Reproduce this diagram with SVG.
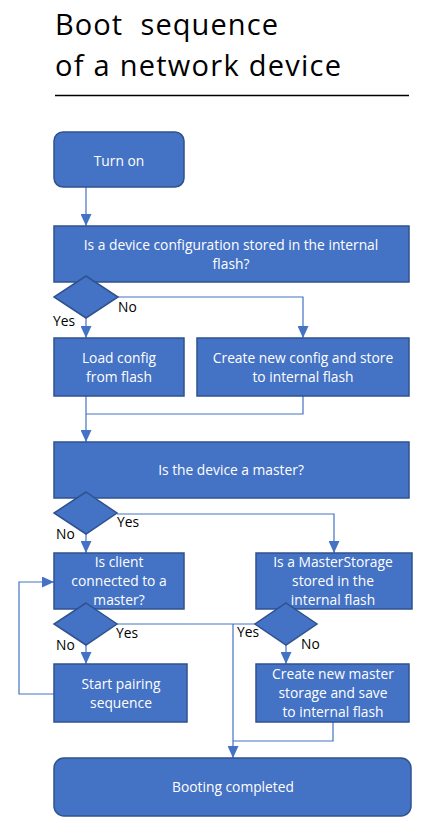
<svg xmlns="http://www.w3.org/2000/svg" width="431" height="836" viewBox="0 0 431 836">
<defs>
<style>
.n{fill:#4472C4;stroke:#2F528F;stroke-width:1.5}
.t{fill:#fff;font-family:"Open Sans",Lato,sans-serif;font-size:13.8px;text-anchor:middle}
.l{fill:#000;font-family:"Open Sans",Lato,sans-serif;font-size:13.8px}
.c{fill:none;stroke:#4472C4;stroke-width:1.2}
.title{fill:#000;font-family:"Open Sans",Lato,sans-serif;font-size:29px}
</style>
<marker id="a" markerWidth="12" markerHeight="11" refX="12" refY="5.5" orient="auto" markerUnits="userSpaceOnUse">
<path d="M0,0 L12,5.5 L0,11 Z" fill="#4472C4"/>
</marker>
</defs>
<rect width="431" height="836" fill="#fff"/>
<g id="title">
<text class="title" x="55" y="35" xml:space="preserve" textLength="223" lengthAdjust="spacing">Boot  sequence</text>
<text class="title" x="55" y="76" textLength="286" lengthAdjust="spacing">of a network device</text>
<line x1="55" y1="95.5" x2="409" y2="95.5" stroke="#000" stroke-width="1.6"/>
</g>
<g id="connectors">
<path class="c" d="M86,187 V226" marker-end="url(#a)"/>
<path class="c" d="M86,318 V338" marker-end="url(#a)"/>
<path class="c" d="M118,297 H303 V338" marker-end="url(#a)"/>
<path class="c" d="M86,396 V442" marker-end="url(#a)"/>
<path class="c" d="M303,396 V414 H86"/>
<path class="c" d="M86,534 V553" marker-end="url(#a)"/>
<path class="c" d="M117,514 H334 V553" marker-end="url(#a)"/>
<path class="c" d="M86,645 V664" marker-end="url(#a)"/>
<path class="c" d="M54,694 H19 V582 H54" marker-end="url(#a)"/>
<path class="c" d="M117,624 H255"/>
<path class="c" d="M233,624 V758" marker-end="url(#a)"/>
<path class="c" d="M286,645 V664" marker-end="url(#a)"/>
<path class="c" d="M333,722 V741 H233"/>
</g>
<g id="labels">
<text class="l" x="118" y="312">No</text>
<text class="l" x="53" y="326">Yes</text>
<text class="l" x="117" y="527">Yes</text>
<text class="l" x="56" y="539">No</text>
<text class="l" x="116" y="638">Yes</text>
<text class="l" x="56" y="650">No</text>
<text class="l" x="237" y="637">Yes</text>
<text class="l" x="301" y="649">No</text>
</g>
<g id="turn-on">
<rect class="n" x="54" y="132" width="130" height="55" rx="9"/>
<text class="t" x="119" y="166">Turn on</text>
</g>
<g id="q-config">
<rect class="n" x="54" y="226" width="355" height="56"/>
<text class="t" x="231" y="250">Is a device configuration stored in the internal</text>
<text class="t" x="231" y="269">flash?</text>
</g>
<g id="d-config">
<path class="n" d="M86,276 L118,297 L86,318 L54,297 Z"/>
</g>
<g id="load-config">
<rect class="n" x="54" y="338" width="130" height="58"/>
<text class="t" x="119" y="363">Load config</text>
<text class="t" x="119" y="382">from flash</text>
</g>
<g id="create-config">
<rect class="n" x="197" y="338" width="212" height="58"/>
<text class="t" x="303" y="363">Create new config and store</text>
<text class="t" x="303" y="382">to internal flash</text>
</g>
<g id="q-master">
<rect class="n" x="54" y="442" width="355" height="56"/>
<text class="t" x="231" y="475">Is the device a master?</text>
</g>
<g id="d-master">
<path class="n" d="M86,492 L117,513 L86,534 L54,513 Z"/>
</g>
<g id="q-client">
<rect class="n" x="54" y="553" width="130" height="56"/>
<text class="t" x="119" y="567">Is client</text>
<text class="t" x="119" y="586">connected to a</text>
<text class="t" x="119" y="605">master?</text>
</g>
<g id="q-storage">
<rect class="n" x="256" y="553" width="156" height="56"/>
<text class="t" x="333" y="567">Is a MasterStorage</text>
<text class="t" x="333" y="586">stored in the</text>
<text class="t" x="333" y="605">internal flash</text>
</g>
<g id="d-client">
<path class="n" d="M86,603 L117,624 L86,645 L54,624 Z"/>
</g>
<g id="d-storage">
<path class="n" d="M286,603 L317,624 L286,645 L255,624 Z"/>
</g>
<g id="pairing">
<rect class="n" x="54" y="664" width="133" height="58"/>
<text class="t" x="121" y="689">Start pairing</text>
<text class="t" x="121" y="708">sequence</text>
</g>
<g id="create-storage">
<rect class="n" x="256" y="664" width="153" height="58"/>
<text class="t" x="333" y="679">Create new master</text>
<text class="t" x="333" y="698">storage and save</text>
<text class="t" x="333" y="717">to internal flash</text>
</g>
<g id="booted">
<rect class="n" x="54" y="758" width="357" height="58" rx="10"/>
<text class="t" x="233" y="792">Booting completed</text>
</g>
</svg>
